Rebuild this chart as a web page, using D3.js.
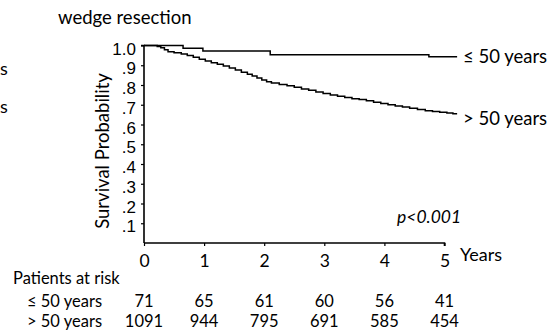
<!DOCTYPE html>
<html>
<head>
<meta charset="utf-8">
<script src="https://cdn.jsdelivr.net/npm/d3@7"></script>
<style>
  html, body { margin: 0; padding: 0; background: #fff; }
  svg { display: block; font-family: Lato, "Open Sans", sans-serif; }
</style>
</head>
<body>
<svg id="chart" width="554" height="332"></svg>
<script>
// Kaplan–Meier estimates, wedge resection, by age group
const groups = ["≤ 50 years", "> 50 years"];

// ≤ 50 years: event times (years) and survival after each step
const youngTimes = [0, 0.65, 0.98, 2.10, 4.74, 5.21];
const youngSurv  = [1.000, 0.986, 0.972, 0.953, 0.943, 0.943];

// > 50 years: event times (years) and survival after each step
const oldTimes = [0, 0.22, 0.28, 0.34, 0.40, 0.50, 0.62, 0.72, 0.82, 0.92,
  1.02, 1.12, 1.22, 1.32, 1.42, 1.52, 1.62, 1.72, 1.80, 1.88, 1.96,
  2.04, 2.12, 2.25, 2.38, 2.50, 2.62, 2.74, 2.86, 2.98,
  3.10, 3.22, 3.34, 3.46, 3.58, 3.70, 3.82, 3.94,
  4.06, 4.18, 4.30, 4.42, 4.55, 4.68, 4.80, 4.92, 5.04, 5.14, 5.21];
const oldSurv = [1.000, 0.995, 0.988, 0.978, 0.968, 0.963, 0.957, 0.950, 0.940, 0.930,
  0.921, 0.913, 0.905, 0.896, 0.886, 0.876, 0.865, 0.855, 0.845, 0.835, 0.825,
  0.816, 0.810, 0.803, 0.796, 0.788, 0.780, 0.773, 0.765, 0.757,
  0.750, 0.743, 0.737, 0.731, 0.726, 0.720, 0.713, 0.706,
  0.700, 0.694, 0.688, 0.682, 0.676, 0.670, 0.666, 0.662, 0.658, 0.654, 0.654];

// Axis ticks
const xTicks = [0, 1, 2, 3, 4, 5];
const yTicks = [0.1, 0.2, 0.3, 0.4, 0.5, 0.6, 0.7, 0.8, 0.9, 1.0];
const yTickLabels = [".1", ".2", ".3", ".4", ".5", ".6", ".7", ".8", ".9", "1.0"];

// Numbers at risk at each year
const riskYoung = [71, 65, 61, 60, 56, 41];
const riskOld   = [1091, 944, 795, 691, 585, 454];

const pValue = "p<0.001";

const svg = d3.select("#chart");

const x = d3.scaleLinear().domain([0, 5]).range([144, 444.5]);
const y = d3.scaleLinear().domain([0, 1]).range([243, 45.5]);

// Title
svg.append("text")
  .attr("x", 58).attr("y", 24)
  .attr("font-size", 18.5)
  .text("wedge resection");

// Last letters of the neighbouring panel's group labels, at the left edge
[75, 113].forEach(yy => {
  svg.append("text")
    .attr("x", 0).attr("y", yy)
    .attr("font-size", 18)
    .text("s");
});

// Y axis (compact-metric font so the tightly spaced labels stay apart)
const yAxis = d3.axisLeft(y)
  .tickValues(yTicks)
  .tickSize(3)
  .tickPadding(5)
  .tickFormat((d, i) => yTickLabels[i]);
const gy = svg.append("g")
  .attr("transform", `translate(${x(0)},0)`)
  .call(yAxis);
gy.select(".domain").attr("stroke-width", 1.6).attr("d", `M-3,${y(1)}H0V${y(0)}`);
gy.selectAll(".tick line").attr("stroke-width", 1.2);
gy.selectAll(".tick text")
  .attr("font-size", 17)
  .attr("font-family", "'Liberation Sans', Arial, sans-serif")
  .attr("fill", "#000")
  .attr("dy", "0.5em");

// X axis
const xAxis = d3.axisBottom(x)
  .tickValues(xTicks)
  .tickSize(3)
  .tickPadding(9)
  .tickFormat(d3.format("d"));
const gx = svg.append("g")
  .attr("transform", `translate(0,${y(0)})`)
  .call(xAxis);
gx.select(".domain").attr("stroke-width", 1.6).attr("d", `M${x(0)},0H${x(5)}V3`);
gx.selectAll(".tick line").attr("stroke-width", 1.2);
gx.selectAll(".tick text")
  .attr("font-size", 17.5)
  .attr("font-family", "Lato, sans-serif")
  .attr("fill", "#000");

svg.append("text")
  .attr("x", 460).attr("y", 261)
  .attr("font-size", 18)
  .text("Years");

// Y axis title
svg.append("text")
  .attr("transform", `translate(109,151) rotate(-90)`)
  .attr("text-anchor", "middle")
  .attr("font-size", 18.5)
  .text("Survival Probability");

// Survival curves
const line = d3.line()
  .x(d => x(d[0]))
  .y(d => y(d[1]))
  .curve(d3.curveStepAfter);

const curves = [
  d3.zip(youngTimes, youngSurv),
  d3.zip(oldTimes, oldSurv)
];

svg.selectAll("path.km")
  .data(curves)
  .join("path")
  .attr("class", "km")
  .attr("fill", "none")
  .attr("stroke", "#000")
  .attr("stroke-width", 1.5)
  .attr("d", line);

// Curve end labels
svg.append("text")
  .attr("x", 463).attr("y", 63)
  .attr("font-size", 18.5)
  .text(groups[0]);
svg.append("text")
  .attr("x", 463).attr("y", 125)
  .attr("font-size", 18.5)
  .text(groups[1]);

// p value
svg.append("text")
  .attr("x", 397).attr("y", 223)
  .attr("font-size", 17.5)
  .attr("font-style", "italic")
  .text(pValue);

// Patients at risk table
svg.append("text")
  .attr("x", 13).attr("y", 283.5)
  .attr("font-size", 16.5)
  .text("Patients at risk");

const rows = [riskYoung, riskOld];
const rowY = [306.5, 327];
rows.forEach((vals, r) => {
  svg.append("text")
    .attr("x", 27).attr("y", rowY[r])
    .attr("font-size", 16.5)
    .text(groups[r]);
  svg.selectAll(null)
    .data(vals)
    .join("text")
    .attr("x", (d, i) => x(xTicks[i]))
    .attr("y", rowY[r])
    .attr("text-anchor", "middle")
    .attr("font-size", 16.5)
    .text(d => d);
});
</script>
</body>
</html>
